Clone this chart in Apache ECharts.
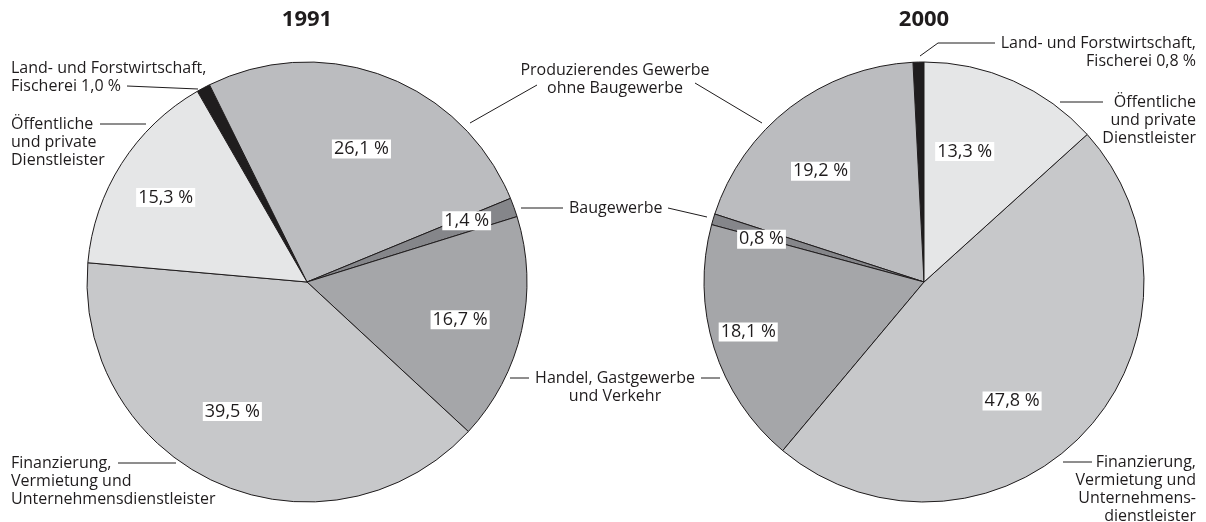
<!DOCTYPE html>
<html>
<head>
<meta charset="utf-8">
<script src="https://cdn.jsdelivr.net/npm/echarts@6/dist/echarts.min.js"></script>
<style>
html,body{margin:0;padding:0;background:#fff;}
#chart{width:1206px;height:522px;}
</style>
</head>
<body>
<div id="chart"></div>
<script>
// ---- data ----
const categories = [
  'Land- und Forstwirtschaft, Fischerei',
  'Produzierendes Gewerbe ohne Baugewerbe',
  'Baugewerbe',
  'Handel, Gastgewerbe und Verkehr',
  'Finanzierung, Vermietung und Unternehmensdienstleister',
  'Öffentliche und private Dienstleister'
];
const years = ['1991', '2000'];
const values1991 = [1.0, 26.1, 1.4, 16.7, 39.5, 15.3];
const values2000 = [0.8, 19.2, 0.8, 18.1, 47.8, 13.3];
const outerText1991 = [
  'Land- und Forstwirtschaft,\nFischerei {v}',
  'Produzierendes Gewerbe\nohne Baugewerbe',
  'Baugewerbe',
  'Handel, Gastgewerbe\nund Verkehr',
  'Finanzierung,\nVermietung und\nUnternehmensdienstleister',
  'Öffentliche\nund private\nDienstleister'
];
const outerText2000 = [
  'Land- und Forstwirtschaft,\nFischerei {v}',
  'Produzierendes Gewerbe\nohne Baugewerbe',
  'Baugewerbe',
  'Handel, Gastgewerbe\nund Verkehr',
  'Finanzierung,\nVermietung und\nUnternehmens-\ndienstleister',
  'Öffentliche\nund private\nDienstleister'
];
// labels shared between both pies (text drawn once, lines from both pies)
const sharedLabel = [false, true, true, true, false, false];
const showInner = [false, true, true, true, true, true];

// ---- styles / layout ----
const colors = ['#1f1d1e', '#bbbcbf', '#85868a', '#a5a6a9', '#c7c8ca', '#e5e6e7'];
const FONT = '"Open Sans", "Noto Sans", sans-serif';
const INK = '#1f1c1d';
const R = 220;
const center1991 = [307, 282];
const center2000 = [924, 282];

const layout1991 = [
  { x: 11, y: 59, align: 'left', verticalAlign: 'top', labelLinePoints: [[198, 89], [127, 86]] },
  { x: 615, y: 61, align: 'center', verticalAlign: 'top', labelLinePoints: [[470, 123], [537, 85]] },
  { x: 569, y: 199, align: 'left', verticalAlign: 'top', labelLinePoints: [[521, 208], [563, 208]] },
  { x: 615, y: 369, align: 'center', verticalAlign: 'top', labelLinePoints: [[510, 378], [529, 378]] },
  { x: 11, y: 454, align: 'left', verticalAlign: 'top', labelLinePoints: [[176, 463], [118, 463]] },
  { x: 11, y: 115, align: 'left', verticalAlign: 'top', labelLinePoints: [[146, 124], [100, 124]] }
];
const layout2000 = [
  { x: 1196, y: 34, align: 'right', verticalAlign: 'top', labelLinePoints: [[920, 56], [938, 43], [995, 43]] },
  { x: 615, y: 61, align: 'center', verticalAlign: 'top', labelLinePoints: [[762, 123], [695, 83]] },
  { x: 569, y: 199, align: 'left', verticalAlign: 'top', labelLinePoints: [[707, 217], [668, 208]] },
  { x: 615, y: 369, align: 'center', verticalAlign: 'top', labelLinePoints: [[720, 378], [701, 378]] },
  { x: 1196, y: 453, align: 'right', verticalAlign: 'top', labelLinePoints: [[1063, 462], [1092, 462]] },
  { x: 1196, y: 93, align: 'right', verticalAlign: 'top', labelLinePoints: [[1060, 102], [1103, 102]] }
];
// small nudges [dx, dy] of the value labels from the library's inside position
const innerNudge1991 = [[0, 0], [-1, 14], [12, -8], [0, 3], [-11, -14], [-9, 0]];
const innerNudge2000 = [[0, 0], [-8, 14], [-12, 2], [-26, 3], [-25, 10], [-23, 13]];

function fmt(v) { return v.toFixed(1).replace('.', ',') + ' %'; }

function mainPie(values, center, startAngle, clockwise, texts, layout, hideShared) {
  return {
    type: 'pie',
    center: center,
    radius: [0, R],
    startAngle: startAngle,
    clockwise: clockwise,
    silent: true,
    avoidLabelOverlap: false,
    itemStyle: { borderColor: INK, borderWidth: 1 },
    label: {
      show: true,
      position: 'outside',
      overflow: 'none',
      fontFamily: FONT,
      fontSize: 16,
      lineHeight: 18,
      color: INK,
      formatter: p => texts[p.dataIndex].replace('{v}', fmt(p.value))
    },
    labelLine: { show: true, length: 5, length2: 5, lineStyle: { color: INK, width: 1 } },
    labelLayout: p => layout[p.dataIndex],
    data: values.map((v, i) => {
      const d = { name: categories[i], value: v, itemStyle: { color: colors[i] } };
      if (hideShared && sharedLabel[i]) d.label = { color: 'rgba(0,0,0,0)' };
      return d;
    })
  };
}

function innerPie(values, center, startAngle, clockwise, nudge) {
  return {
    type: 'pie',
    center: center,
    radius: [88, R],
    startAngle: startAngle,
    clockwise: clockwise,
    silent: true,
    itemStyle: { color: 'rgba(0,0,0,0)', borderWidth: 0 },
    label: {
      show: true,
      position: 'inside',
      fontFamily: FONT,
      fontSize: 18,
      lineHeight: 19,
      color: INK,
      backgroundColor: '#ffffff',
      padding: [0, 2, 0, 2],
      formatter: p => fmt(p.value)
    },
    labelLine: { show: false },
    labelLayout: p => {
      const r = p.labelRect;
      const n = nudge[p.dataIndex];
      return { x: r.x + r.width / 2 + n[0], y: r.y + r.height / 2 + n[1], align: 'center', verticalAlign: 'middle' };
    },
    data: values.map((v, i) => ({ name: categories[i], value: v, label: { show: showInner[i] } }))
  };
}

const chart = echarts.init(document.getElementById('chart'), null, { renderer: 'canvas' });
chart.setOption({
  animation: false,
  backgroundColor: '#ffffff',
  title: [
    { text: years[0], left: center1991[0], top: 9, textAlign: 'center', padding: 0,
      textStyle: { fontFamily: FONT, fontSize: 22, fontWeight: 'bold', color: INK, lineHeight: 22 } },
    { text: years[1], left: center2000[0], top: 9, textAlign: 'center', padding: 0,
      textStyle: { fontFamily: FONT, fontSize: 22, fontWeight: 'bold', color: INK, lineHeight: 22 } }
  ],
  series: [
    mainPie(values1991, center1991, 119.9, true, outerText1991, layout1991, false),
    mainPie(values2000, center2000, 90, false, outerText2000, layout2000, true),
    innerPie(values1991, center1991, 119.9, true, innerNudge1991),
    innerPie(values2000, center2000, 90, false, innerNudge2000)
  ]
});
</script>
</body>
</html>
